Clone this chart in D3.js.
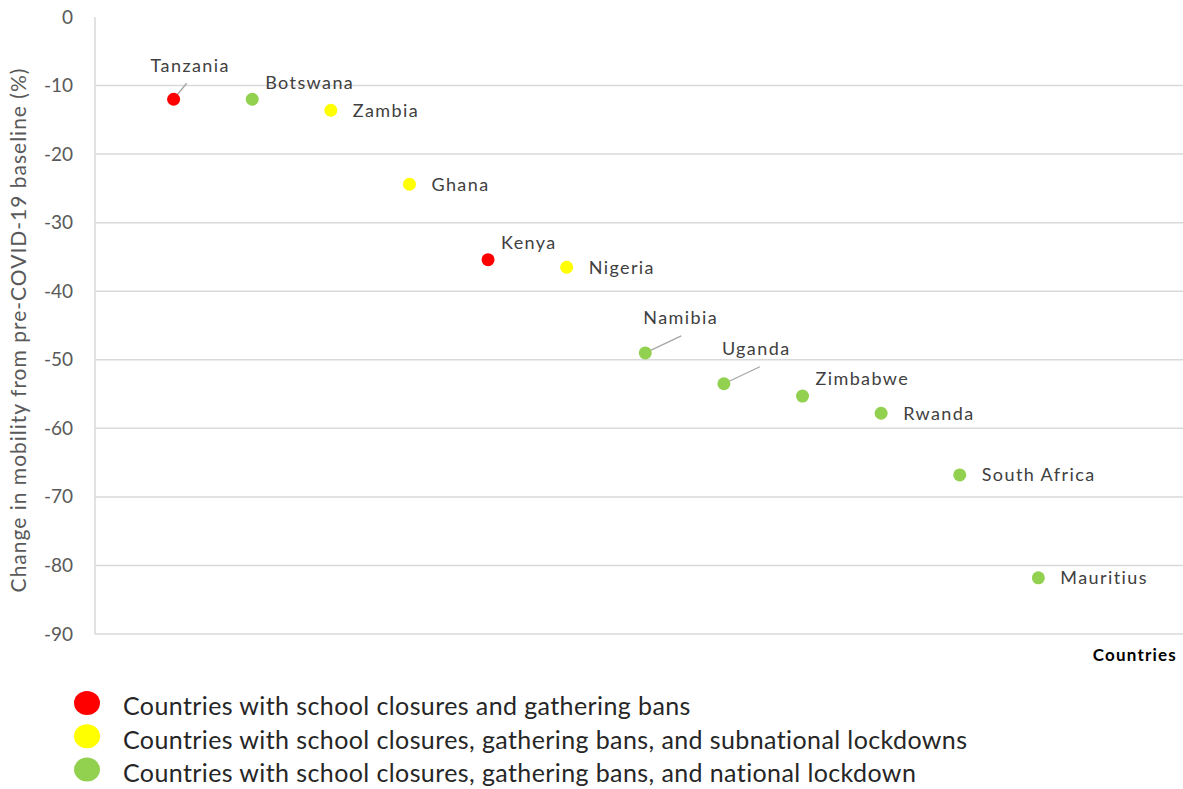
<!DOCTYPE html>
<html>
<head>
<meta charset="utf-8">
<script src="https://cdn.jsdelivr.net/npm/d3@7"></script>
<style>
  body { margin: 0; background: white; }
  svg { display: block; }
</style>
</head>
<body>
<div id="chart"></div>
<script>
const countries = ["Tanzania", "Botswana", "Zambia", "Ghana", "Kenya", "Nigeria",
  "Namibia", "Uganda", "Zimbabwe", "Rwanda", "South Africa", "Mauritius"];
const mobility = [-12.0, -12.0, -13.6, -24.4, -35.4, -36.5, -49.0, -53.5, -55.3, -57.8, -66.8, -81.8];
const policyGroup = ["ban", "lockdown", "subnational", "subnational", "ban", "subnational",
  "lockdown", "lockdown", "lockdown", "lockdown", "lockdown", "lockdown"];
const labelPlacement = ["leaderLeft", "above", "right", "right", "above", "right",
  "leader", "leader", "above", "right", "right", "right"];
const yTicks = [0, -10, -20, -30, -40, -50, -60, -70, -80, -90];

const groups = ["ban", "subnational", "lockdown"];
const groupLabels = [
  "Countries with school closures and gathering bans",
  "Countries with school closures, gathering bans, and subnational lockdowns",
  "Countries with school closures, gathering bans, and national lockdown"
];
const groupColors = ["#ff0000", "#ffff00", "#92d050"];

const width = 1183, height = 789;
const svg = d3.select("#chart").append("svg")
  .attr("width", width)
  .attr("height", height)
  .style("font-family", "Lato, 'Open Sans', sans-serif");

const plotLeft = 95, plotRight = 1183, plotTop = 17, plotBottom = 634;

const x = d3.scaleLinear().domain([0, 13.84]).range([plotLeft, plotRight]);
const y = d3.scaleLinear().domain([0, -90]).range([plotTop, plotBottom]);
const color = d3.scaleOrdinal().domain(groups).range(groupColors);

// gridlines
svg.append("g")
  .selectAll("line")
  .data(yTicks.filter(d => d !== 0))
  .join("line")
  .attr("x1", plotLeft).attr("x2", plotRight)
  .attr("y1", d => y(d)).attr("y2", d => y(d))
  .attr("stroke", "#d9d9d9")
  .attr("stroke-width", 1.5);

svg.append("line")
  .attr("x1", plotLeft).attr("x2", plotLeft)
  .attr("y1", plotTop).attr("y2", plotBottom)
  .attr("stroke", "#d9d9d9")
  .attr("stroke-width", 1.5);

// y axis
const yAxis = svg.append("g")
  .attr("transform", `translate(${plotLeft},0)`)
  .call(d3.axisLeft(y).tickValues(yTicks).tickSize(0).tickPadding(22).tickFormat(d => String(d)));
yAxis.select(".domain").remove();
yAxis.selectAll("text")
  .style("font-size", "19px")
  .style("fill", "#595959")
  .style("font-family", "Lato, sans-serif");

svg.append("text")
  .attr("transform", "translate(26,330) rotate(-90)")
  .attr("text-anchor", "middle")
  .style("font-size", "21px")
  .style("letter-spacing", "1px")
  .style("fill", "#595959")
  .text("Change in mobility from pre-COVID-19 baseline (%)");

svg.append("text")
  .attr("x", 1177).attr("y", 661)
  .attr("text-anchor", "end")
  .style("font-size", "17px")
  .style("font-weight", "bold")
  .style("letter-spacing", "1.2px")
  .style("fill", "#000")
  .text("Countries");

const data = countries.map((c, i) => ({
  name: c, idx: i + 1, value: mobility[i], group: policyGroup[i], place: labelPlacement[i]
}));

const offsets = {
  right: [22, 0],
  above: [13, -17],
  leader: [-2, -35],
  leaderLeft: [-23, -34]
};
const leaderEnd = {
  leader: [36, -17],
  leaderLeft: [13, -16]
};

// leader lines
svg.append("g")
  .selectAll("line")
  .data(data.filter(d => leaderEnd[d.place]))
  .join("line")
  .attr("x1", d => x(d.idx)).attr("y1", d => y(d.value))
  .attr("x2", d => x(d.idx) + leaderEnd[d.place][0])
  .attr("y2", d => y(d.value) + leaderEnd[d.place][1])
  .attr("stroke", "#a6a6a6")
  .attr("stroke-width", 1.3);

// points
svg.append("g")
  .selectAll("circle")
  .data(data)
  .join("circle")
  .attr("cx", d => x(d.idx))
  .attr("cy", d => y(d.value))
  .attr("r", 6.5)
  .attr("fill", d => color(d.group));

// labels
svg.append("g")
  .selectAll("text")
  .data(data)
  .join("text")
  .attr("x", d => x(d.idx) + offsets[d.place][0])
  .attr("y", d => y(d.value) + offsets[d.place][1])
  .attr("dy", "0.35em")
  .style("font-size", "18px")
  .style("letter-spacing", "1.4px")
  .style("fill", "#404040")
  .text(d => d.name);

// legend
const legend = svg.append("g")
  .selectAll("g")
  .data(groups)
  .join("g");

legend.append("ellipse")
  .attr("cx", 87).attr("cy", (d, i) => 703 + i * 33.3)
  .attr("rx", 13).attr("ry", 12)
  .attr("fill", d => color(d));

legend.append("text")
  .attr("x", 123).attr("y", (d, i) => 715 + i * 33.5)
  .style("font-size", "25px")
  .style("letter-spacing", "0.4px")
  .style("fill", "#262626")
  .text((d, i) => groupLabels[i]);
</script>
</body>
</html>
